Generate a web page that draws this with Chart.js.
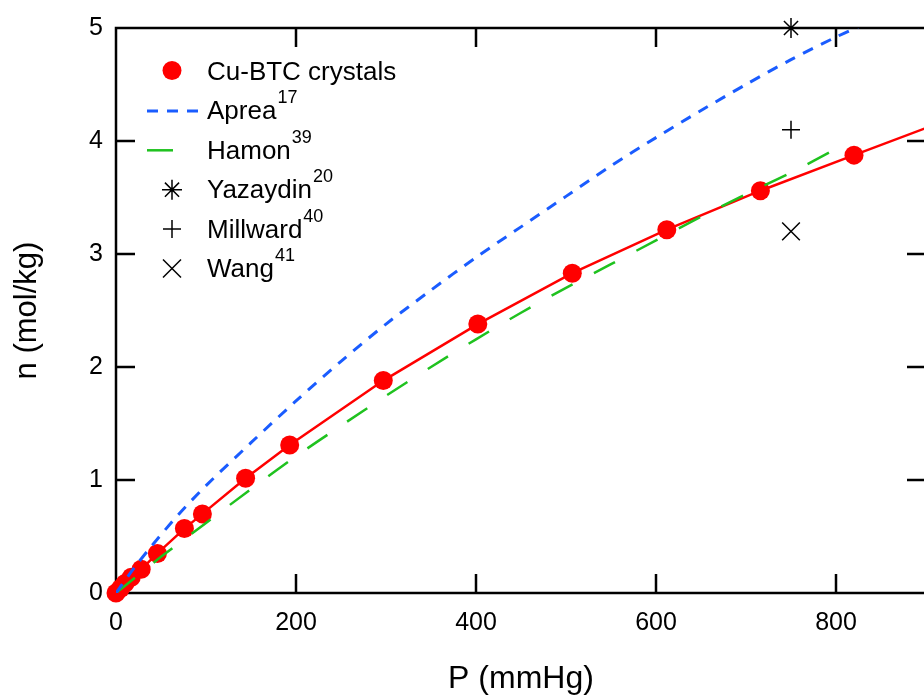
<!DOCTYPE html>
<html><head><meta charset="utf-8">
<script src="https://cdn.jsdelivr.net/npm/chart.js@4/dist/chart.umd.min.js"></script>
<style>
html,body{margin:0;padding:0;overflow:hidden;background:#fff;width:924px;height:698px}
#wrap{position:relative;width:940px;height:698px}
</style>
</head><body>
<div id="wrap"><canvas id="c" width="940" height="698" style="width:940px;height:698px"></canvas></div>
<script>
// ---- data ----
const cuBtcP = [0, 5, 10, 17, 28, 46, 76, 96, 144, 193, 297, 402, 507, 612, 716, 820, 925];
const cuBtcN = [0, 0.04, 0.085, 0.14, 0.21, 0.35, 0.57, 0.70, 1.015, 1.31, 1.88, 2.38, 2.83, 3.215, 3.56, 3.875, 4.19];

const apreaP = [0, 20, 40, 70, 100, 150, 200, 250, 300, 350, 400, 450, 500, 550, 600, 650, 700, 750, 800, 830];
const apreaN = [0, 0.22, 0.42, 0.70, 0.95, 1.33, 1.70, 2.05, 2.38, 2.68, 2.97, 3.24, 3.51, 3.78, 4.03, 4.27, 4.50, 4.72, 4.92, 5.03];

const hamonP = [0, 25, 50, 100, 150, 200, 250, 300, 350, 400, 450, 500, 550, 600, 650, 700, 750, 800];
const hamonN = [0, 0.16, 0.32, 0.62, 0.92, 1.21, 1.48, 1.745, 2.0, 2.245, 2.48, 2.70, 2.91, 3.12, 3.33, 3.53, 3.72, 3.93];

const yazaydinP = [750]; const yazaydinN = [5.0];
const millwardP = [750]; const millwardN = [4.1];
const wangP = [750];     const wangN = [3.2];

const xTicks = [0, 200, 400, 600, 800];
const yTicks = [0, 1, 2, 3, 4, 5];

const legendNames = ['Cu-BTC crystals', 'Aprea', 'Hamon', 'Yazaydin', 'Millward', 'Wang'];
const legendRefs  = ['', '17', '39', '20', '40', '41'];
const xTitle = 'P (mmHg)';
const yTitle = 'n (mol/kg)';

// ---- styling ----
const FAMILY = '"Liberation Sans", Arial, Helvetica, sans-serif';
const RED = '#ff0000', BLUE = '#1a5cff', GREEN = '#1fc21f';
const pts = (xs, ys) => xs.map((x, i) => ({x: x, y: ys[i]}));

const framePlugin = {
  id: 'frame',
  beforeDatasetsDraw(chart) {
    const {ctx, chartArea: {left, right, top, bottom}, scales: {x, y}} = chart;
    ctx.save();
    ctx.strokeStyle = '#000';
    ctx.lineWidth = 2.5;
    ctx.beginPath();
    ctx.rect(left, top, right - left, bottom - top);
    ctx.stroke();
    const TL = 19;
    ctx.beginPath();
    x.ticks.forEach(t => {
      const px = x.getPixelForValue(t.value);
      if (px <= left + 1 || px >= right - 1) return;
      ctx.moveTo(px, bottom); ctx.lineTo(px, bottom - TL);
      ctx.moveTo(px, top); ctx.lineTo(px, top + TL);
    });
    y.ticks.forEach(t => {
      const py = y.getPixelForValue(t.value);
      if (py >= bottom - 1 || py <= top + 1) return;
      ctx.moveTo(left, py); ctx.lineTo(left + TL, py);
      ctx.moveTo(right, py); ctx.lineTo(right - TL, py);
    });
    ctx.stroke();
    ctx.restore();
  }
};

const legendPlugin = {
  id: 'customLegend',
  afterDraw(chart) {
    const ctx = chart.ctx;
    const mx = 172, tx = 207, base0 = 80, step = 39.4;
    ctx.save();
    legendNames.forEach((name, i) => {
      const by = base0 + i * step;
      const my = by - 8.5;
      ctx.setLineDash([]);
      ctx.strokeStyle = '#000';
      if (i === 0) {
        ctx.fillStyle = RED;
        ctx.beginPath(); ctx.arc(mx, my - 1, 9.5, 0, Math.PI * 2); ctx.fill();
      } else if (i === 1) {
        ctx.strokeStyle = BLUE; ctx.lineWidth = 3; ctx.setLineDash([11, 9]);
        ctx.beginPath(); ctx.moveTo(147, my); ctx.lineTo(198, my); ctx.stroke();
      } else if (i === 2) {
        ctx.strokeStyle = GREEN; ctx.lineWidth = 2.5;
        ctx.beginPath(); ctx.moveTo(147, my); ctx.lineTo(173, my); ctx.stroke();
      } else if (i === 3) {
        ctx.lineWidth = 1.5; const r = 10, d = r * Math.SQRT1_2;
        ctx.beginPath();
        ctx.moveTo(mx - r, my); ctx.lineTo(mx + r, my);
        ctx.moveTo(mx, my - r); ctx.lineTo(mx, my + r);
        ctx.moveTo(mx - d, my - d); ctx.lineTo(mx + d, my + d);
        ctx.moveTo(mx - d, my + d); ctx.lineTo(mx + d, my - d);
        ctx.stroke();
      } else if (i === 4) {
        ctx.lineWidth = 1.5; const r = 9;
        ctx.beginPath();
        ctx.moveTo(mx - r, my); ctx.lineTo(mx + r, my);
        ctx.moveTo(mx, my - r); ctx.lineTo(mx, my + r);
        ctx.stroke();
      } else {
        ctx.lineWidth = 1.5; const d = 9;
        ctx.beginPath();
        ctx.moveTo(mx - d, my - d); ctx.lineTo(mx + d, my + d);
        ctx.moveTo(mx - d, my + d); ctx.lineTo(mx + d, my - d);
        ctx.stroke();
      }
      ctx.fillStyle = '#000';
      ctx.textBaseline = 'alphabetic';
      ctx.textAlign = 'left';
      ctx.font = '26px ' + FAMILY;
      ctx.fillText(name, tx, by);
      if (legendRefs[i]) {
        const w = ctx.measureText(name).width;
        ctx.font = '18px ' + FAMILY;
        ctx.fillText(legendRefs[i], tx + w + 1, by - 16);
      }
    });
    ctx.restore();
  }
};

new Chart(document.getElementById('c'), {
  type: 'line',
  data: {
    datasets: [
      {label: 'Yazaydin', data: pts(yazaydinP, yazaydinN), showLine: false, pointStyle: 'star',
       pointRadius: 10, borderColor: '#000', backgroundColor: '#000', pointBorderWidth: 1.5, clip: false},
      {label: 'Millward', data: pts(millwardP, millwardN), showLine: false, pointStyle: 'cross',
       pointRadius: 9, borderColor: '#000', backgroundColor: '#000', pointBorderWidth: 1.5, clip: false},
      {label: 'Wang', data: pts(wangP, wangN), showLine: false, pointStyle: 'crossRot',
       pointRadius: 12.5, borderColor: '#000', backgroundColor: '#000', pointBorderWidth: 1.5, clip: false},
      {label: 'Aprea', data: pts(apreaP, apreaN), borderColor: BLUE, borderWidth: 3,
       borderDash: [11, 9], pointRadius: 0, tension: 0.3, fill: false},
      {label: 'Hamon', data: pts(hamonP, hamonN), borderColor: GREEN, borderWidth: 2.5,
       borderDash: [24, 24], pointRadius: 0, tension: 0.3, fill: false},
      {label: 'Cu-BTC crystals', data: pts(cuBtcP, cuBtcN), borderColor: RED, borderWidth: 2.5,
       pointRadius: 9.5, pointBackgroundColor: RED, pointBorderColor: RED, pointBorderWidth: 0,
       tension: 0, fill: false, clip: {left: 12, top: 12, right: 0, bottom: 12}}
    ]
  },
  options: {
    responsive: false,
    animation: false,
    devicePixelRatio: 1,
    layout: {padding: {top: 25, right: 10, left: 0, bottom: 0}},
    plugins: {legend: {display: false}, tooltip: {enabled: false}},
    scales: {
      x: {
        type: 'linear', min: 0, max: 900,
        afterBuildTicks(s) { s.ticks = xTicks.map(v => ({value: v})); },
        afterFit(s) { s.height = 105; },
        grid: {display: false, drawTicks: false},
        border: {display: false},
        ticks: {padding: 15, color: '#000', font: {size: 25, family: FAMILY}, maxRotation: 0, autoSkip: false},
        title: {display: true, text: xTitle, color: '#000', font: {size: 32, family: FAMILY}, padding: {top: 0, bottom: 0}}
      },
      y: {
        type: 'linear', min: 0, max: 5,
        afterBuildTicks(s) { s.ticks = yTicks.map(v => ({value: v})); },
        afterFit(s) { s.width = 116; },
        grid: {display: false, drawTicks: false},
        border: {display: false},
        ticks: {padding: 13, color: '#000', font: {size: 25, family: FAMILY}, autoSkip: false},
        title: {display: true, text: yTitle, color: '#000', font: {size: 31, family: FAMILY}, padding: {top: 9, bottom: 0}}
      }
    }
  },
  plugins: [framePlugin, legendPlugin]
});
</script>
</body></html>
